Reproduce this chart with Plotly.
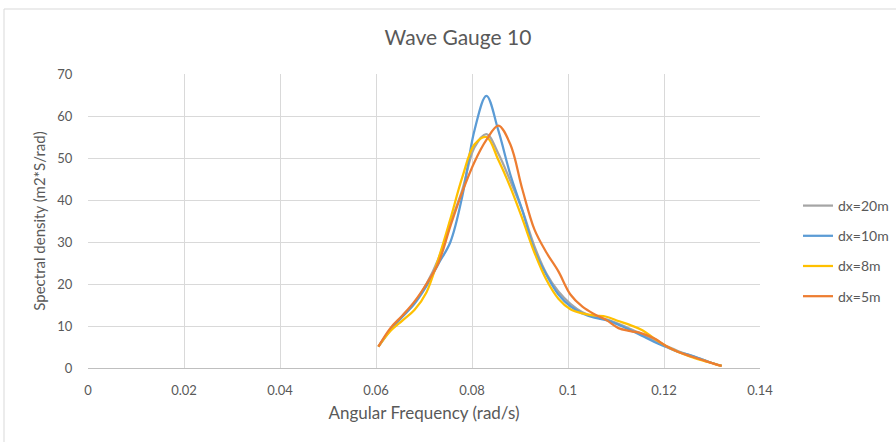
import plotly.graph_objects as go

freq = [0.0605, 0.063, 0.0655, 0.068, 0.0705, 0.073, 0.0755, 0.078, 0.0805, 0.083,
        0.0855, 0.088, 0.0905, 0.093, 0.0955, 0.098, 0.1005, 0.103, 0.1055, 0.108,
        0.1105, 0.113, 0.1155, 0.118, 0.1205, 0.123, 0.1255, 0.128, 0.1305, 0.132]

dx20 = [5.1, 9.2, 12.3, 15.5, 20.0, 26.0, 34.5, 42.5, 52.5, 55.7,
        51.0, 44.5, 37.5, 29.0, 22.5, 18.2, 15.3, 13.3, 12.2, 11.6,
        10.5, 9.3, 8.0, 6.5, 5.2, 4.0, 3.0, 2.0, 1.0, 0.5]

dx10 = [5.1, 9.0, 12.2, 15.3, 19.5, 24.8, 30.0, 41.0, 56.5, 64.8,
        56.5, 46.0, 37.5, 28.0, 22.2, 17.5, 14.7, 13.0, 12.0, 11.4,
        10.3, 9.0, 7.6, 6.2, 5.0, 3.8, 3.0, 2.0, 1.0, 0.5]

dx8 = [5.1, 8.8, 11.3, 13.8, 18.0, 26.0, 35.5, 45.5, 53.2, 55.0,
       49.5, 43.0, 35.5, 27.5, 21.0, 16.5, 14.0, 13.0, 12.5, 12.2,
       11.2, 10.2, 9.0, 7.0, 5.2, 3.8, 2.7, 1.8, 1.0, 0.5]

dx5 = [5.1, 9.5, 12.5, 15.8, 20.0, 25.0, 33.8, 42.0, 49.0, 54.3,
       57.7, 53.2, 42.5, 33.0, 27.5, 23.0, 17.5, 14.6, 12.8, 11.4,
       9.5, 8.8, 8.2, 7.0, 5.2, 3.8, 2.8, 1.9, 1.0, 0.5]

series_names = ["dx=20m", "dx=10m", "dx=8m", "dx=5m"]
series_values = [dx20, dx10, dx8, dx5]
series_colors = ["#A5A5A5", "#5B9BD5", "#FFC000", "#ED7D31"]

x_ticks = [0, 0.02, 0.04, 0.06, 0.08, 0.1, 0.12, 0.14]
x_tick_labels = ["0", "0.02", "0.04", "0.06", "0.08", "0.1", "0.12", "0.14"]
y_ticks = [0, 10, 20, 30, 40, 50, 60, 70]

FONT = "Lato, 'Open Sans', sans-serif"
TXT = "#595959"

fig = go.Figure()
for name, vals, col in zip(series_names, series_values, series_colors):
    fig.add_trace(go.Scatter(
        x=freq, y=vals, name=name, mode="lines",
        line=dict(color=col, width=2.25, shape="spline", smoothing=1.0),
        legendgroup=name,
    ))

fig.update_layout(
    width=896, height=442,
    margin=dict(l=88, r=136, t=74, b=74, autoexpand=False),
    paper_bgcolor="white", plot_bgcolor="white",
    font=dict(family=FONT, color=TXT, size=12),
    title=dict(text="Wave Gauge 10", x=458 / 896, xanchor="center", xref="container",
               y=1 - 38 / 442, yanchor="middle", yref="container",
               font=dict(family=FONT, size=21, color=TXT)),
    showlegend=True,
    legend=dict(x=(798 - 88) / 672, xanchor="left", y=0.398, yanchor="middle",
                font=dict(family=FONT, size=14, color=TXT),
                tracegroupgap=9, bgcolor="rgba(0,0,0,0)"),
    xaxis=dict(range=[0, 0.14], tickvals=x_ticks, ticktext=x_tick_labels,
               showgrid=True, gridcolor="#D9D9D9", gridwidth=1,
               showline=True, linecolor="#BFBFBF", linewidth=1,
               zeroline=False, ticks="outside", ticklen=10, tickcolor="rgba(0,0,0,0)",
               automargin=False,
               tickfont=dict(family=FONT, size=13, color=TXT),
               title=dict(text="Angular Frequency (rad/s)", standoff=10,
                          font=dict(family=FONT, size=17, color=TXT))),
    yaxis=dict(range=[0, 70], tickvals=y_ticks,
               showgrid=True, gridcolor="#D9D9D9", gridwidth=1,
               showline=False, zeroline=False,
               ticks="outside", ticklen=12, tickcolor="rgba(0,0,0,0)",
               automargin=False,
               tickfont=dict(family=FONT, size=13, color=TXT),
               title=dict(text="Spectral density (m2*S/rad)", standoff=8,
                          font=dict(family=FONT, size=15, color=TXT))),
)

# chart frame (Excel-style border, partially cropped)
fig.add_shape(type="rect", xref="paper", yref="paper",
              x0=(4 - 88) / 672, x1=(900 - 88) / 672,
              y0=(368 - 446) / 294, y1=(368 - 9) / 294,
              line=dict(color="#D9D9D9", width=1), fillcolor="rgba(0,0,0,0)",
              layer="below")

fig.write_html("out.html",
               config={"displayModeBar": False},
               post_script="document.body.style.margin='0px';document.body.style.overflow='hidden';")
